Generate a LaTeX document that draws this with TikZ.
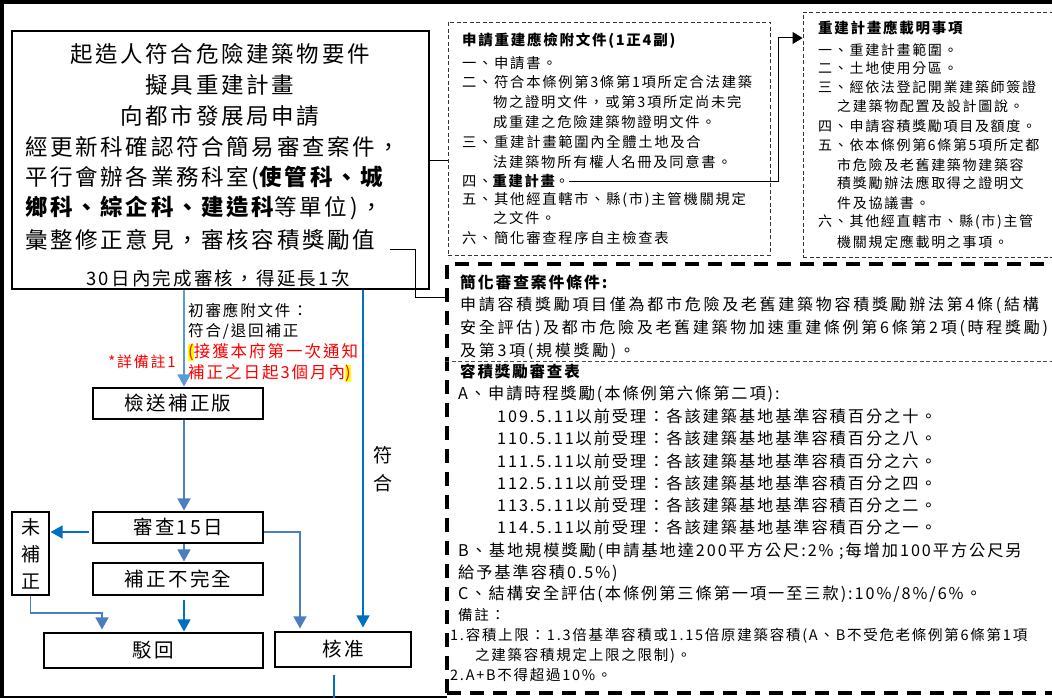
\documentclass[tikz,border=0pt]{standalone}
\usepackage{fontspec}
\usetikzlibrary{arrows.meta,calc}
\setmainfont[LetterSpace=12]{Noto Sans CJK TC}
\newfontfamily\widefont[LetterSpace=17]{Noto Sans CJK TC}
\newcommand\fsz[1]{\fontsize{#1pt}{#1pt}\selectfont}
\definecolor{flowblue}{RGB}{74,126,193}
\definecolor{lightblue}{RGB}{91,155,213}
\definecolor{brightblue}{RGB}{0,112,192}
\definecolor{hlyellow}{RGB}{255,255,0}
\newcommand\hlc[1]{{\setlength\fboxsep{0pt}\colorbox{hlyellow}{#1}}}
\begin{document}
\begin{tikzpicture}[x=1pt,y=-1pt,
  box/.style={draw=black, line width=1.1pt, inner sep=0pt},
  dashbox/.style={draw=black!80, line width=0.9pt, dash pattern=on 4pt off 2.5pt, inner sep=0pt},
  bigdash/.style={draw=black, line width=3.6pt, dash pattern=on 14pt off 9pt, inner sep=0pt},
  t/.style={inner sep=0pt, anchor=west},
  tc/.style={inner sep=0pt},
  flow/.style={draw=flowblue, line width=1.5pt, -{Triangle[width=13pt,length=12pt]}},
  blk/.style={draw=black, line width=1pt}]
\useasboundingbox (0,0) rectangle (1052,698);
\clip (0,0) rectangle (1052,698);
\fill[white] (0,0) rectangle (1052,698);
% frame
\draw[line width=4pt] (0,2) -- (1052,2);
\draw[line width=4pt] (2,0) -- (2,698);
\draw[line width=1.5pt] (0,697) -- (447,697);
% main box
\node[box, minimum width=417pt, minimum height=258pt] (mainbox) at (220.5,160) {};
\node[tc, font=\fsz{22.5}] (m1) at (220,54) {起造人符合危險建築物要件};
\node[tc, font=\fsz{22.5}] (m2) at (220,85) {擬具重建計畫};
\node[tc, font=\fsz{22.5}] (m3) at (220,116) {向都市發展局申請};
\node[t, font=\fsz{22.5}] (m4) at (25,147) {經更新科確認符合簡易審查案件，};
\node[t, font=\fsz{22.5}] (m5) at (25,178) {平行會辦各業務科室({\bfseries 使管科、城}};
\node[t, font=\fsz{22.5}] (m6) at (25,208) {{\bfseries 鄉科、綜企科、建造科}等單位)，};
\node[t, font=\fsz{22.5}] (m7) at (25,240) {彙整修正意見，審核容積獎勵值};
\node[tc, font=\fsz{18.5}] (m8) at (218,278) {30日內完成審核，得延長1次};
% flow boxes
\node[box, minimum width=170pt, minimum height=31pt, font=\fsz{19.5}] (send) at (178,403.5) {檢送補正版};
\node[box, minimum width=170pt, minimum height=31pt, font=\fsz{19.5}] (review) at (178,527.5) {審查15日};
\node[box, minimum width=170pt, minimum height=32pt, font=\fsz{19.5}] (incomplete) at (178,579) {補正不完全};
\node[box, minimum width=219pt, minimum height=35pt, font=\fsz{19.5}] (reject) at (153.5,650.5) {駁回};
\node[box, minimum width=136pt, minimum height=35pt, font=\fsz{19.5}] (approve) at (343,649.5) {核准};
\node[box, minimum width=37pt, minimum height=83pt, align=center, font=\fontsize{19pt}{27pt}\selectfont] (notfix) at (30.5,553.5) {未\\補\\正};
\node[tc, align=center, font=\fontsize{19pt}{28pt}\selectfont] (okmark) at (383,469) {符\\合};
% annotations
\node[t, font=\fsz{15.5}] (n1) at (188,310) {初審應附文件：};
\node[t, font=\fsz{15.5}] (n2) at (188,331) {符合/退回補正};
\node[t, font=\fsz{16.5}, text=red] (n3) at (188,352) {\hlc{(}接獲本府第一次通知};
\node[t, font=\fsz{16.5}, text=red] (n4) at (188,373) {補正之日起3個月內\hlc{)}};
\node[inner sep=0pt, anchor=east, font=\fsz{15}, text=red] (n5) at (176,362) {*詳備註1};
% flow arrows
\coordinate (axis) at (184,0);
\coordinate (ry) at (0,532);
\coordinate (bendC) at (102,613);
\coordinate (bendD) at (300,0);
\coordinate (fx) at (363,0);
\coordinate (tailend) at (334,698);
\draw[flow, draw=lightblue] (mainbox.south -| axis) -- ([yshift=1pt]send.north -| axis);
\draw[flow] (send.south -| axis) -- ([yshift=1pt]review.north -| axis);
\draw[flow] (review.south -| axis) -- ([yshift=1pt]incomplete.north -| axis);
\draw[flow, draw=brightblue] ([yshift=-4pt]incomplete.south -| axis) -- ([yshift=1pt]reject.north -| axis);
\draw[flow, draw=brightblue] ([xshift=-3pt]review.west |- ry) -- ([xshift=1pt]notfix.east |- ry);
\draw[flow] (notfix.south) |- (bendC) -- ([yshift=3pt]reject.north -| bendC);
\draw[flow] (review.east |- ry) -| ([yshift=3pt]approve.north -| bendD);
\draw[flow, draw=brightblue] (mainbox.south -| fx) -- ([yshift=4pt]approve.north -| fx);
\draw[draw=brightblue, line width=1.5pt] ([yshift=-7pt]approve.south -| tailend) -- (tailend);
% document box
\node[dashbox, minimum width=322pt, minimum height=233pt] (docbox) at (609,138.5) {};
\node[t, font=\fsz{14.5}\bfseries] (d0) at (462,41) {申請重建應檢附文件(1正4副)};
\node[t, font=\fsz{14.3}] (d1) at (462,63) {一、申請書。};
\node[t, font=\fsz{14.3}] (d2) at (462,82) {二、符合本條例第3條第1項所定合法建築};
\node[t, font=\fsz{14.3}] (d3) at (493,102) {物之證明文件，或第3項所定尚未完};
\node[t, font=\fsz{14.3}] (d4) at (493,122) {成重建之危險建築物證明文件。};
\node[t, font=\fsz{14.3}] (d5) at (462,142) {三、重建計畫範圍內全體土地及合};
\node[t, font=\fsz{14.3}] (d6) at (493,162) {法建築物所有權人名冊及同意書。};
\node[t, font=\fsz{14.3}] (l4) at (462,181) {四、{\bfseries 重建計畫}。};
\node[t, font=\fsz{14.3}] (d8) at (462,200) {五、其他經直轄市、縣(市)主管機關規定};
\node[t, font=\fsz{14.3}] (d9) at (493,218) {之文件。};
\node[t, font=\fsz{14.3}] (d10) at (462,238) {六、簡化審查程序自主檢查表};
% plan box
\node[dashbox, minimum width=253pt, minimum height=245pt] (planbox) at (929.5,134.5) {};
\node[t, font=\fsz{14.5}\bfseries] (p0) at (818,28) {重建計畫應載明事項};
\node[t, font=\fsz{14}] (p1) at (818,50) {一、重建計畫範圍。};
\node[t, font=\fsz{14}] (p2) at (818,68) {二、土地使用分區。};
\node[t, font=\fsz{14}] (p3) at (818,87) {三、經依法登記開業建築師簽證};
\node[t, font=\fsz{14}] (p4) at (837,106) {之建築物配置及設計圖說。};
\node[t, font=\fsz{14}] (p5) at (818,126) {四、申請容積獎勵項目及額度。};
\node[t, font=\fsz{14}] (p6) at (818,145) {五、依本條例第6條第5項所定都};
\node[t, font=\fsz{14}] (p7) at (837,165) {市危險及老舊建築物建築容};
\node[t, font=\fsz{14}] (p8) at (837,183) {積獎勵辦法應取得之證明文};
\node[t, font=\fsz{14}] (p9) at (837,203) {件及協議書。};
\node[t, font=\fsz{14}] (p10) at (818,222) {六、其他經直轄市、縣(市)主管};
\node[t, font=\fsz{14}] (p11) at (837,242) {機關規定應載明之事項。};
% big dashed box
\node[bigdash, minimum width=613pt, minimum height=429pt] (bigbox) at (753.5,478.5) {};
\draw[draw=black!70, line width=0.8pt, dash pattern=on 4pt off 2.5pt] (bigbox.west |- 0,361) -- (bigbox.east |- 0,361);
\node[t, font=\fsz{15.8}\bfseries] (b0) at (460,282) {簡化審查案件條件:};
\node[t, font=\fsz{16}\widefont] (b1) at (460,305) {申請容積獎勵項目僅為都市危險及老舊建築物容積獎勵辦法第4條(結構};
\node[t, font=\fsz{16}\widefont] (b2) at (460,328) {安全評估)及都市危險及老舊建築物加速重建條例第6條第2項(時程獎勵)};
\node[t, font=\fsz{16}\widefont] (b3) at (460,351) {及第3項(規模獎勵)。};
\node[t, font=\fsz{15.5}\bfseries] (c0) at (460,372) {容積獎勵審查表};
\node[t, font=\fsz{16.2}] (c1) at (458,394) {A、申請時程獎勵(本條例第六條第二項):};
\node[t, font=\fsz{16.2}] (c2) at (497,416) {109.5.11以前受理：各該建築基地基準容積百分之十。};
\node[t, font=\fsz{16.2}] (c3) at (497,438) {110.5.11以前受理：各該建築基地基準容積百分之八。};
\node[t, font=\fsz{16.2}] (c4) at (497,461) {111.5.11以前受理：各該建築基地基準容積百分之六。};
\node[t, font=\fsz{16.2}] (c5) at (497,483) {112.5.11以前受理：各該建築基地基準容積百分之四。};
\node[t, font=\fsz{16.2}] (c6) at (497,505) {113.5.11以前受理：各該建築基地基準容積百分之二。};
\node[t, font=\fsz{16.2}] (c7) at (497,527) {114.5.11以前受理：各該建築基地基準容積百分之一。};
\node[t, font=\fsz{16.2}] (c8) at (458,551) {B、基地規模獎勵(申請基地達200平方公尺:2\% ;每增加100平方公尺另};
\node[t, font=\fsz{16.2}] (c9) at (458,573) {給予基準容積0.5\%)};
\node[t, font=\fsz{16.2}] (c10) at (458,594) {C、結構安全評估(本條例第三條第一項一至三款):10\%/8\%/6\%。};
\node[t, font=\fsz{14.5}] (c11) at (458,615) {備註：};
\node[t, font=\fsz{14.5}] (c12) at (450,636) {1.容積上限：1.3倍基準容積或1.15倍原建築容積(A、B不受危老條例第6條第1項};
\node[t, font=\fsz{14.5}] (c13) at (475,656) {之建築容積規定上限之限制)。};
\node[t, font=\fsz{14.5}] (c14) at (450,675) {2.A+B不得超過10\%。};
% black connectors
\coordinate (bendA) at (778,38);
\coordinate (bendB) at (415,297);
\draw[blk] (mainbox.east |- 0,160) -- (docbox.west |- 0,160);
\draw[blk, -{Triangle[width=12pt,length=10pt]}] (l4.east) -| (bendA) -- (planbox.west |- bendA);
\draw[blk] ($(m7.east)+(14,9)$) -| (bendB) -- (bigbox.west |- bendB);
\end{tikzpicture}
\end{document}
